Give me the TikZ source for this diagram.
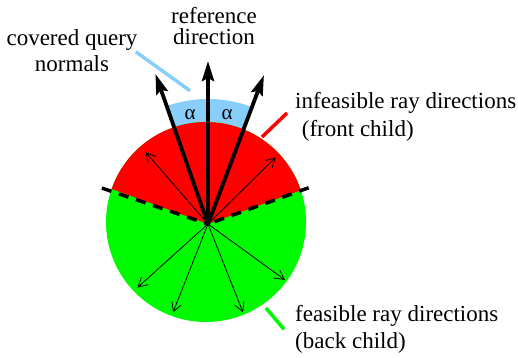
\documentclass[tikz,border=0pt]{standalone}
\usepackage{fontspec}
\setmainfont{Liberation Serif}
\usetikzlibrary{arrows.meta,calc}
\definecolor{skyb}{RGB}{135,206,250}
\definecolor{purered}{RGB}{255,0,0}
\definecolor{puregreen}{RGB}{0,250,0}
\tikzset{
  lbl/.style={font=\fontsize{23}{27}\selectfont, inner sep=0pt},
  thickarrow/.style={line width=3.8pt, -{Stealth[length=20pt,width=12pt,inset=3pt]}},
  thinarrow/.style={line width=0.8pt, -{Straight Barb[length=9pt,width=10pt]}},
  divline/.style={line width=3.5pt, dash pattern=on 10pt off 8pt},
  leader/.style={line width=3.5pt}
}
\begin{document}
\begin{tikzpicture}[x=1pt,y=1pt]
\useasboundingbox (0,0) rectangle (518,357);
\coordinate (O) at (208,133);
\coordinate (C) at (206,135);
% blue cap
\fill[skyb] (O) -- ++(70:125) arc[start angle=70,end angle=110,radius=125] -- cycle;
% green disc
\fill[puregreen] (C) circle[radius=100];
% red part
\begin{scope}
  \clip (C) circle[radius=100];
  \fill[purered] (O) -- ++(20:170) arc[start angle=20,end angle=160,radius=170] -- cycle;
\end{scope}
% dividing plane
\coordinate (dl) at ($(O)+(161.3:112)$);
\coordinate (dr) at ($(O)+(19.8:107)$);
\draw[divline] (dl) -- (O);
\draw[divline] (dr) -- (O);
% thin arrows
\foreach \a/\n in {131/t1,44.6/t2,222/t3,248.4/t4,291.6/t5,324/t6}{
  \coordinate (\n) at ($(O)+(\a:95)$);
  \draw[thinarrow] (O) -- (\n);
}
% thick arrows
\coordinate (aL) at ($(O)+(109.3:159)$);
\coordinate (aM) at ($(O)+(90:163)$);
\coordinate (aR) at ($(O)+(69.4:159)$);
\draw[thickarrow] (O) -- (aL);
\draw[thickarrow] (O) -- (aM);
\draw[thickarrow] (O) -- (aR);
% alpha labels
\node[font=\fontsize{21}{21}\selectfont, inner sep=0pt] (al1) at (190,242) {α};
\node[font=\fontsize{21}{21}\selectfont, inner sep=0pt] (al2) at (227,242) {α};
% labels
\node[lbl, anchor=base] (ref1) at (214,333.7) {reference};
\node[lbl, anchor=base] (ref2) at (214,312.7) {direction};
\node[lbl, anchor=base] (cov1) at (72,312) {covered query};
\node[lbl, anchor=base] (cov2) at (72,285.3) {normals};
\node[lbl, anchor=base west] (inf1) at (295,248.7) {infeasible ray directions};
\node[lbl, anchor=base west] (inf2) at (301.7,221) {(front child)};
\node[lbl, anchor=base west] (fea1) at (295,35.3) {feasible ray directions};
\node[lbl, anchor=base west] (fea2) at (295,9) {(back child)};
% leaders
\coordinate (b1) at (135.7,305.3);
\coordinate (b2) at (190,266.3);
\draw[leader, skyb] (b1) -- (b2);
\coordinate (r1) at (262,220);
\coordinate (r2) at (287,244);
\draw[leader, purered] (r1) -- (r2);
\coordinate (g1) at (266,49);
\coordinate (g2) at (284,27.7);
\draw[leader, puregreen] (g1) -- (g2);
\end{tikzpicture}
\end{document}
